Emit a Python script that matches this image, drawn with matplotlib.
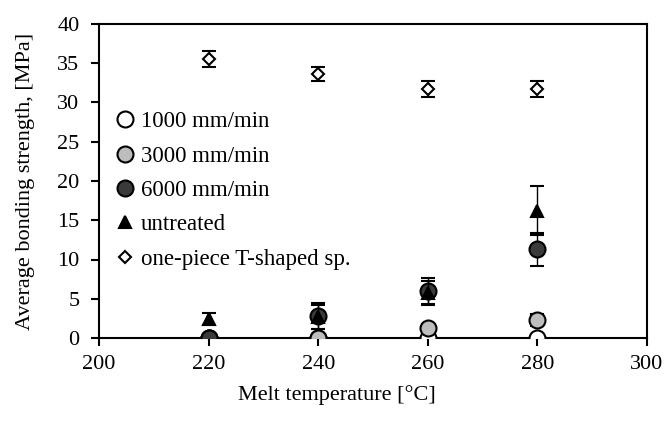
import matplotlib
matplotlib.use("Agg")
import matplotlib.pyplot as plt
import numpy as np

plt.rcParams['font.family'] = ['Liberation Serif', 'DejaVu Serif']

temps = [220, 240, 260, 280]

speed_1000 = [0.0, 0.0, 0.0, 0.0]
speed_1000_err = [0.0, 0.0, 0.0, 0.0]

speed_3000 = [0.0, 0.0, 1.3, 2.3]
speed_3000_err = [0.0, 0.0, 0.5, 0.8]

speed_6000 = [0.0, 2.8, 6.0, 11.3]
speed_6000_err = [0.0, 1.6, 1.7, 2.1]

untreated = [2.4, 2.7, 5.7, 16.2]
untreated_err = [0.8, 1.5, 1.5, 3.1]

one_piece = [35.5, 33.6, 31.7, 31.7]
one_piece_err = [1.0, 0.9, 1.0, 1.0]

series = [
    ("1000 mm/min", speed_1000, speed_1000_err, dict(marker='o', mfc='white', ms=11.5)),
    ("3000 mm/min", speed_3000, speed_3000_err, dict(marker='o', mfc='#bdbdbd', ms=11.5)),
    ("6000 mm/min", speed_6000, speed_6000_err, dict(marker='o', mfc='#3a3a3a', ms=11.5)),
    ("untreated", untreated, untreated_err, dict(marker='^', mfc='black', ms=8)),
    ("one-piece T-shaped sp.", one_piece, one_piece_err, dict(marker='D', mfc='white', ms=6)),
]

fig = plt.figure(figsize=(6.67, 4.22), dpi=100)
ax = fig.add_axes([99 / 667, 84 / 422, 548 / 667, 314 / 422])

for i, (label, vals, errs, style) in enumerate(series):
    ax.errorbar(temps, vals, yerr=errs, linestyle='none', color='black',
                mec='black', mew=1.5, ecolor='black', elinewidth=1.0,
                capsize=5, capthick=1.0, label=label, zorder=3 + i, **style)

ax.set_xlim(200, 300)
ax.set_ylim(0, 40)
ax.set_xticks(np.arange(200, 301, 20))
ax.set_yticks(np.arange(0, 41, 5))
ax.tick_params(direction='out', length=6, width=1.5, labelsize=16)
ax.tick_params(axis='y', pad=8)
ax.tick_params(axis='x', pad=6)
for sp in ax.spines.values():
    sp.set_linewidth(1.5)

ax.set_xlabel("Melt temperature [°C]", fontsize=16, labelpad=8, x=0.434)
ax.set_ylabel("Average bonding strength, [MPa]", fontsize=16, labelpad=16)

handles, labels = ax.get_legend_handles_labels()
handles = [h[0] for h in handles]
ax.legend(handles, labels, loc='upper left', bbox_to_anchor=(0.035, 0.722),
          frameon=False, fontsize=16.5, handlelength=0.6, handletextpad=0.4,
          labelspacing=0.58, borderaxespad=0, borderpad=0)

fig.savefig("out.png", dpi=100, facecolor='white')
